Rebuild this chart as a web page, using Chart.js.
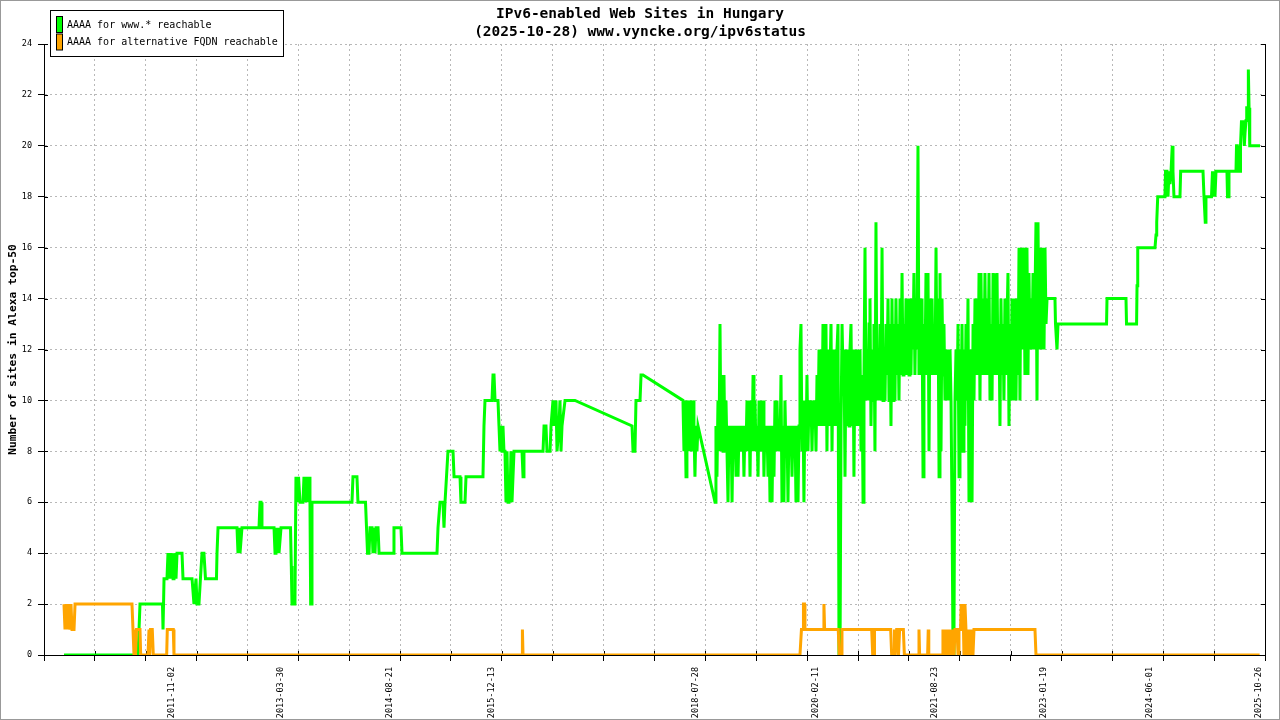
<!DOCTYPE html>
<html>
<head>
<meta charset="utf-8">
<script src="https://cdn.jsdelivr.net/npm/chart.js@4.4.1/dist/chart.umd.min.js"></script>
<style>
html,body{margin:0;padding:0;background:#fff;}
canvas{display:block;}
</style>
</head>
<body>
<canvas id="c" width="1280" height="720"></canvas>
<script>
// ---------- data ----------
const titleLines = ['IPv6-enabled Web Sites in Hungary', '(2025-10-28) www.vyncke.org/ipv6status'];
const yAxisTitle = 'Number of sites in Alexa top-50';
const seriesLabels = ['AAAA for www.* reachable', 'AAAA for alternative FQDN reachable'];
const tickDates = ['2011-11-02','2013-03-30','2014-08-21','2015-12-13','2018-07-28','2020-02-11','2021-08-23','2023-01-19','2024-06-01','2025-10-26'];

// decimal years
const wwwYears = [
2010.453,2011.405,2011.430,2011.719,2011.726,2011.739,2011.777,2011.790,2011.816,2011.829,2011.855,2011.867,2011.893,2011.906,2011.970,2011.983,
2012.099,2012.124,2012.150,2012.163,2012.188,2012.207,2012.227,2012.252,2012.272,2012.413,2012.420,2012.433,2012.677,2012.690,2012.703,2012.716,2012.741,2012.960,2012.973,2012.986,2012.998,
2013.153,2013.166,2013.178,2013.191,2013.204,2013.217,2013.243,2013.365,2013.375,2013.384,2013.422,2013.435,2013.455,2013.468,2013.487,2013.525,2013.538,2013.558,2013.571,2013.590,2013.603,2013.615,2013.624,2013.635,2013.641,
2014.155,2014.168,2014.219,2014.232,2014.329,2014.342,2014.355,2014.374,2014.387,2014.413,2014.425,2014.438,2014.451,2014.464,2014.490,2014.503,2014.683,2014.695,2014.785,2014.798,
2015.248,2015.261,2015.287,2015.325,2015.338,2015.351,2015.370,2015.389,2015.454,2015.467,2015.544,2015.556,2015.608,2015.621,2015.839,2015.852,2015.865,2015.955,2015.968,2015.981,2015.994,
2016.032,2016.045,2016.058,2016.071,2016.084,2016.096,2016.109,2016.122,2016.135,2016.148,2016.161,2016.173,2016.186,2016.199,2016.212,2016.225,2016.238,2016.341,2016.354,2016.366,
2016.611,2016.624,2016.649,2016.662,2016.701,2016.714,2016.739,2016.752,2016.778,2016.791,2016.816,2016.829,2016.842,2016.855,2016.894,2017.022,2017.755,2017.768,2017.793,2017.806,2017.858,2017.871,2017.896,
2018.410,2018.423,2018.436,2018.449,2018.461,2018.474,2018.487,2018.500,2018.513,2018.526,2018.539,2018.551,2018.564,2018.577,2018.590,2018.603,2018.822,
2018.834,2018.847,2018.860,2018.873,
2018.886,2018.899,2018.912,2018.925,2018.937,2018.950,2018.963,2018.976,2018.989,2019.002,
2019.015,2019.028,2019.041,2019.054,2019.066,2019.079,2019.092,2019.105,2019.118,2019.131,
2019.143,2019.156,2019.169,2019.182,2019.194,2019.207,2019.220,2019.233,2019.246,2019.259,
2019.272,2019.285,2019.298,2019.311,2019.323,2019.336,2019.349,2019.362,2019.375,2019.388,
2019.400,2019.413,2019.426,2019.439,2019.451,2019.464,2019.477,2019.490,2019.503,2019.516,
2019.529,2019.542,2019.555,2019.568,2019.580,2019.593,2019.606,2019.619,2019.632,2019.645,
2019.657,2019.670,2019.683,2019.696,2019.708,2019.721,2019.734,2019.747,2019.760,2019.773,
2019.786,2019.799,2019.812,2019.825,2019.837,2019.850,2019.863,2019.876,2019.889,2019.902,
2019.914,2019.927,2019.940,2019.953,2019.965,2019.978,2019.991,2020.004,2020.017,2020.030,
2020.043,2020.056,2020.069,2020.082,2020.094,2020.107,2020.120,2020.133,2020.146,2020.159,
2020.171,2020.184,2020.197,2020.210,2020.222,2020.235,2020.248,2020.261,2020.274,2020.287,
2020.300,2020.313,2020.326,2020.339,2020.351,2020.364,2020.377,2020.390,2020.403,2020.416,
2020.429,2020.442,2020.455,2020.468,2020.480,2020.493,2020.506,2020.519,2020.532,2020.545,
2020.557,2020.570,2020.583,2020.596,2020.608,2020.621,2020.634,2020.647,2020.660,2020.673,
2020.686,2020.699,2020.712,2020.725,2020.737,2020.750,2020.763,2020.776,2020.789,2020.802,
2020.814,2020.827,2020.840,2020.853,2020.865,2020.878,2020.891,2020.904,2020.917,2020.930,
2020.943,2020.956,2020.969,2020.982,2020.994,2021.007,2021.020,2021.033,2021.046,2021.059,
2021.071,2021.084,2021.097,2021.110,2021.122,2021.135,2021.148,2021.161,2021.174,2021.187,
2021.200,2021.213,2021.226,2021.239,2021.251,2021.264,2021.277,2021.290,2021.303,2021.316,
2021.328,2021.341,2021.354,2021.367,2021.379,2021.392,2021.405,2021.418,2021.431,2021.444,
2021.457,2021.470,2021.483,2021.496,2021.508,2021.521,2021.534,2021.547,2021.560,2021.573,
2021.586,2021.599,2021.612,2021.625,2021.637,2021.650,2021.663,2021.676,2021.689,2021.702,
2021.714,2021.727,2021.740,2021.753,2021.765,2021.778,2021.791,2021.804,2021.817,2021.830,
2021.843,2021.856,2021.869,2021.882,2021.894,2021.907,2021.920,2021.933,2021.946,2021.959,
2021.971,2021.984,2021.997,2022.010,2022.022,2022.035,2022.048,2022.061,2022.074,2022.087,
2022.100,2022.113,2022.126,2022.139,2022.151,2022.164,2022.177,2022.190,2022.203,2022.216,
2022.228,2022.241,2022.254,2022.267,2022.279,2022.292,2022.305,2022.318,2022.331,2022.344,
2022.357,2022.370,2022.383,2022.396,2022.408,2022.421,2022.434,2022.447,2022.460,2022.473,
2022.485,2022.498,2022.511,2022.524,2022.536,2022.549,2022.562,2022.575,2022.588,2022.601,
2022.614,2022.627,2022.640,2022.653,2022.665,2022.678,2022.691,2022.704,2022.717,2022.730,
2022.742,2022.755,2022.768,2022.781,2022.793,2022.806,2022.819,2022.832,2022.845,2022.858,
2022.871,2022.884,2022.897,2022.910,2022.922,2022.935,2022.948,2022.961,2022.974,2022.987,
2023.000,2023.013,2023.026,2023.039,2023.051,2023.064,2023.077,2023.090,
2023.192,2023.199,2023.218,2023.231,2023.855,2023.861,2024.105,2024.112,2024.241,2024.247,2024.256,2024.478,2024.491,2024.500,2024.513,
2024.606,2024.613,2024.632,2024.645,2024.658,2024.671,2024.684,2024.700,2024.709,2024.722,2024.799,2024.808,
2025.095,2025.108,2025.124,2025.133,2025.204,2025.217,2025.230,2025.243,2025.249,2025.262,2025.403,2025.410,2025.423,2025.429,
2025.519,2025.526,2025.536,2025.542,2025.571,2025.577,2025.590,2025.603,2025.616,2025.626,2025.635,2025.648,2025.657,2025.674,2025.678,2025.687,2025.696,2025.828
];
const wwwSites = [
0,0,2,2,1,3,3,4,3,4,3,4,3,4,4,3,
3,2,3,2,2,3,4,4,3,3,4,5,5,4,5,4,5,5,6,6,5,
5,4,5,4,5,4,5,5,3.5,2,2,7,6,7,6,6,7,6,7,6,7,6,2,2,6,
6,7,7,6,6,5,4,4,5,5,4,5,4,5,5,4,4,5,5,4,
4,5,6,6,5,6,7,8,8,7,7,6,6,7,7,9,10,10,11,11,10,
10,9,8,9,8,9,8,8,6,8,6,7,6,8,6,7,8,8,7,8,
8,9,9,8,8,9,10,9,10,8,9,10,8,9,10,10,9,8,8,10,10,11,11,
10,8,10,7,9,10,8,10,9,8,10,9,7,9,8,9,6,
9,7,10,8,
13,8,11,8,11,8,10,8,6,9,
8,9,6,9,8,9,7,9,7,9,
8,9,8,9,7,9,8,10,8,10,
7,10,8,11,8,10,8,9,7,10,
8,9,8,10,7,9,8,9,7,9,
6,9,6,9,7,10,8,10,8,9,
8,11,6,9,6,10,8,9,6,9,
8,9,7,9,8,9,6,9,6,9,
12,13,8,10,6,10,8,11,8,10,
9,10,8,10,9,10,8,11,9,12,
9,12,9,13,9,12,13,8,12,9,
11,13,8,12,9,12,9,12,13,0,
0,9,13,11,12,7,12,9,12,9,
12,13,9,12,7,12,9,12,9,11,
12,8,11,6,11,16,10,12,10,13,
14,9,12,10,13,8,17,10,12,10,
13,10,16,10,12,10,13,11,14,10,
13,9,14,10,13,10,14,11,13,10,
14,11,15,11,13,11,14,11,14,11,
14,11,14,12,15,11,14,12,20,11,
14,11,14,7,13,11,15,11,15,8,
14,11,14,11,13,11,16,11,14,7,
15,8,14,11,13,10,12,10,12,10,
12,10,5.5,0,1,10,12,10,13,7,
12,9,13,8,12,9,13,10,14,6,
12,9,6,13,10,14,11,14,11,15,
10,15,11,14,11,15,11,14,11,15,
10,13,10,15,11,14,11,15,11,13,
9,14,11,13,10,14,11,13,15,9,
13,10,14,11,10,14,10,14,11,16,
10,16,12,15,16,11,14,16,11,15,
12,14,12,15,12,14,17,10,17,12,
16,12,14,16,12,16,13,14,
14,13,12,13,13,14,14,13,13,14.5,16,16,16.5,17,18,
18,19,19,18,19,18.5,19,20,19,18,18,19,
19,18,17,18,18,19,18,19,18,19,19,18,18,19,
19,20,20,19,19,20,21,20.5,21,20,20.5,21,21.5,21.5,23,21.5,20,20
];

const altYears = [
2010.453,2010.466,2010.479,2010.492,2010.505,2010.517,2010.530,2010.543,2010.556,2010.582,2010.595,
2011.327,2011.340,2011.353,2011.366,2011.372,2011.385,2011.430,2011.439,2011.533,2011.546,2011.555,2011.565,2011.588,2011.601,2011.773,2011.781,2011.858,2011.867,
2016.341,2016.346,2016.354,
2019.914,2019.933,2019.953,2019.959,2019.972,2019.978,2020.216,2020.222,2020.231,2020.406,2020.419,2020.448,2020.454,
2020.836,2020.849,2020.866,2020.872,2021.080,2021.093,2021.123,2021.129,2021.139,2021.157,2021.174,2021.181,2021.195,2021.243,2021.256,
2021.438,2021.444,2021.452,2021.555,2021.563,2021.570,
2021.746,2021.752,2021.765,2021.778,2021.791,2021.804,2021.817,2021.830,2021.843,2021.856,2021.868,2021.881,2021.894,2021.907,2021.933,2021.946,2021.958,
2021.978,2021.987,2021.997,2022.010,2022.022,2022.035,2022.048,2022.061,2022.074,2022.087,2022.100,2022.113,2022.125,2022.138,2022.151,
2022.935,2022.948,2025.823
];
const altSites = [
2,1,2,1,2,2,1,2,1,1,2,
2,1,0,1,0,1,1,0,0,1,0,1,1,0,0,1,1,0,
0,1,0,
0,1,1,2,2,1,1,2,1,1,0,0,1,
1,0,0,1,1,0,0,1,0,1,1,0,1,1,0,
0,1,0,0,1,0,
0,1,0,1,0,1,0,1,0,1,0,1,0,1,1,0,1,
1,2,1,2,0,2,1,0,1,0,1,0,1,0,1,
1,0,0
];

// ---------- helpers ----------
function toYear(s) {
  const [y, m, d] = s.split('-').map(Number);
  const a = Date.UTC(y, 0, 1), b = Date.UTC(y + 1, 0, 1);
  return y + (Date.UTC(y, m - 1, d) - a) / (b - a);
}
const X_MIN = 2010.196, X_MAX = 2025.892, GRID_DIVS = 24;
const FONT = '"DejaVu Sans Mono", "Liberation Mono", monospace';
const GRID_COLOR = '#b8b8b8';

const pts = (xs, ys) => xs.map((x, i) => ({ x: x, y: ys[i] }));

const framePlugin = {
  id: 'frame',
  beforeDraw(chart) {
    const c = chart.ctx;
    c.save(); c.fillStyle = '#fff'; c.fillRect(0, 0, chart.width, chart.height); c.restore();
  },
  beforeDatasetsDraw(chart) {
    const c = chart.ctx, a = chart.chartArea, xs = chart.scales.x, ys = chart.scales.y;
    c.save(); c.strokeStyle = '#000'; c.lineWidth = 1; c.beginPath();
    xs.ticks.forEach(t => {
      if (!t.grid) return;
      const px = Math.round(xs.getPixelForValue(t.value)) + 0.5;
      c.moveTo(px, a.bottom); c.lineTo(px, a.bottom - 4);
    });
    ys.ticks.forEach(t => {
      const py = Math.round(ys.getPixelForValue(t.value)) + 0.5;
      c.moveTo(a.left, py); c.lineTo(a.left + 4, py);
      c.moveTo(a.right, py); c.lineTo(a.right - 4, py);
    });
    c.stroke(); c.restore();
  },
  afterDraw(chart) {
    const c = chart.ctx;
    c.save();
    // legend box
    c.fillStyle = '#fff'; c.fillRect(50.5, 10.5, 233, 46);
    c.strokeStyle = '#000'; c.lineWidth = 1; c.strokeRect(50.5, 10.5, 233, 46);
    chart.data.datasets.forEach((ds, i) => {
      const y = 16.5 + i * 17.5;
      c.fillStyle = ds.borderColor; c.fillRect(56.5, y, 6, 16);
      c.strokeStyle = '#000'; c.strokeRect(56.5, y, 6, 16);
      c.fillStyle = '#000'; c.font = '10px ' + FONT; c.textBaseline = 'middle'; c.textAlign = 'left';
      c.fillText(ds.label, 67, y + 8.5);
    });
    // outer frame
    c.strokeStyle = '#999'; c.lineWidth = 2; c.strokeRect(0, 0, chart.width, chart.height);
    c.restore();
  }
};

new Chart(document.getElementById('c'), {
  type: 'line',
  data: {
    datasets: [
      { label: seriesLabels[0], data: pts(wwwYears, wwwSites), borderColor: '#00ff00', backgroundColor: '#00ff00',
        borderWidth: 3, pointRadius: 0, tension: 0, fill: false, order: 1 },
      { label: seriesLabels[1], data: pts(altYears, altSites), borderColor: '#ffa500', backgroundColor: '#ffa500',
        borderWidth: 3, pointRadius: 0, tension: 0, fill: false, order: 0 }
    ]
  },
  options: {
    responsive: false,
    animation: false,
    devicePixelRatio: 1,
    layout: { padding: { top: 0, left: 0, right: 0, bottom: 0 } },
    plugins: {
      legend: { display: false },
      tooltip: { enabled: false },
      title: {
        display: true, text: titleLines, color: '#000',
        font: { family: FONT, size: 14.5, weight: 'bold', lineHeight: 1.29 },
        padding: { top: 4.6, bottom: 2 }
      }
    },
    scales: {
      x: {
        type: 'linear', min: X_MIN, max: X_MAX, position: 'bottom',
        afterBuildTicks(scale) {
          const t = [];
          for (let k = 0; k <= GRID_DIVS; k++) {
            t.push({ value: X_MIN + k * (X_MAX - X_MIN) / GRID_DIVS, grid: true, edge: k === 0 || k === GRID_DIVS });
          }
          tickDates.forEach(d => t.push({ value: toYear(d), text: d }));
          scale.ticks = t;
        },
        afterFit(scale) { scale.height = 65; },
        ticks: {
          autoSkip: false, minRotation: 90, maxRotation: 90, padding: 6, color: '#000',
          font: { family: FONT, size: 8.5 },
          callback: (v, i, ticks) => ticks[i].text || ''
        },
        grid: {
          color: c => (c.tick && c.tick.grid && !c.tick.edge) ? GRID_COLOR : 'rgba(0,0,0,0)',
          tickColor: c => (c.tick && c.tick.grid) ? '#000' : 'rgba(0,0,0,0)',
          tickLength: 6, lineWidth: 1
        },
        border: { display: true, color: '#000', width: 1, dash: [2, 3] }
      },
      y: {
        type: 'linear', min: 0, max: 24, position: 'left',
        afterFit(scale) { scale.width = 44; },
        ticks: { stepSize: 2, color: '#000', padding: 6, font: { family: FONT, size: 8.5 } },
        grid: {
          color: c => (c.tick && c.tick.value === 0) ? 'rgba(0,0,0,0)' : GRID_COLOR,
          tickColor: '#000', tickLength: 6, lineWidth: 1
        },
        border: { display: true, color: '#000', width: 1, dash: [2, 3] },
        title: { display: true, text: yAxisTitle, color: '#000', font: { family: FONT, size: 11.3, weight: 'bold' }, padding: { top: 6, bottom: 0 } }
      },
      y2: {
        type: 'linear', display: true, min: 0, max: 24, position: 'right',
        afterFit(scale) { scale.width = 15; },
        ticks: { display: false },
        grid: { display: false, drawOnChartArea: false, drawTicks: false },
        border: { display: true, color: '#000', width: 1 }
      }
    }
  },
  plugins: [framePlugin]
});
</script>
</body>
</html>
